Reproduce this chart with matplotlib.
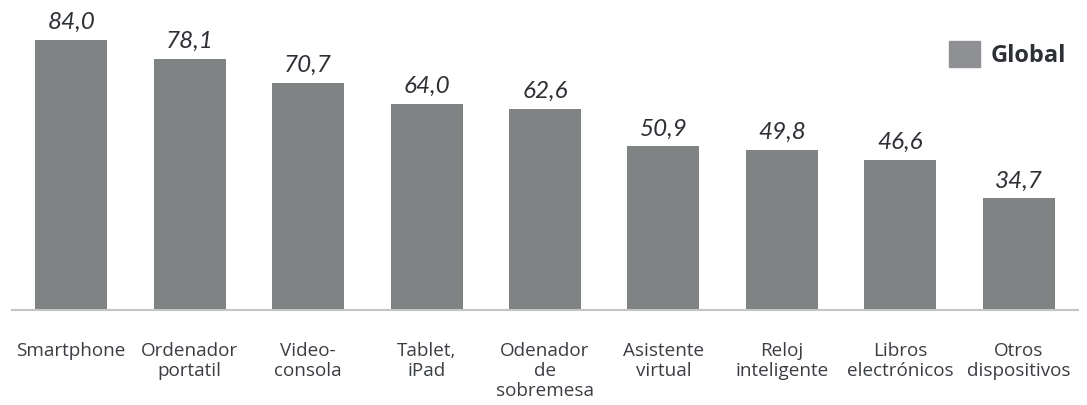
import matplotlib.pyplot as plt
import numpy as np
from matplotlib.patches import Patch

# Data
categories = ["Smartphone", "Ordenador\nportatil", "Video-\nconsola", "Tablet,\niPad",
              "Odenador\nde\nsobremesa", "Asistente\nvirtual", "Reloj\ninteligente",
              "Libros\nelectrónicos", "Otros\ndispositivos"]
values = [84.0, 78.1, 70.7, 64.0, 62.6, 50.9, 49.8, 46.6, 34.7]
series_name = "Global"

bar_color = "#808384"
legend_color = "#8f9094"
text_color = "#2d3035"

plt.rcParams['font.family'] = ['Open Sans', 'DejaVu Sans']

fig = plt.figure(figsize=(10.87, 4.05), dpi=100)
ax = fig.add_axes([12 / 1087, 95 / 405, 1066 / 1087, 310 / 405])

x = np.arange(len(categories))
bars = ax.bar(x, values, width=0.607, color=bar_color, zorder=2)

# value labels
for xi, v in zip(x, values):
    ax.annotate(f"{v:.1f}".replace(".", ","), (xi, v), xytext=(0, 5),
                textcoords="offset points", ha="center", va="bottom",
                fontsize=17.5, style="italic", color=text_color,
                family=["Lato", "DejaVu Sans"])

ax.set_xlim(-0.5, 8.5)
ax.set_ylim(0, 96.4)
ax.set_xticks(x)
ax.set_xticklabels(categories, fontsize=13.6, color="#3a3d42", linespacing=1.16, va="top")
ax.tick_params(axis="x", length=0, pad=23)
ax.set_yticks([])
for s in ["top", "right", "left"]:
    ax.spines[s].set_visible(False)
ax.spines["bottom"].set_color("#c4c4c4")
ax.spines["bottom"].set_linewidth(1.5)

ax.legend(handles=[Patch(color=legend_color, label=series_name)], loc="upper left",
          bbox_to_anchor=(949 / 1087, 1 - 41 / 405), bbox_transform=fig.transFigure,
          frameon=False, borderpad=0, borderaxespad=0, handlelength=1.32, handleheight=1.32,
          handletextpad=0.45, prop={"size": 17, "weight": "bold"}, labelcolor=text_color)

fig.savefig("out.png", dpi=100)
